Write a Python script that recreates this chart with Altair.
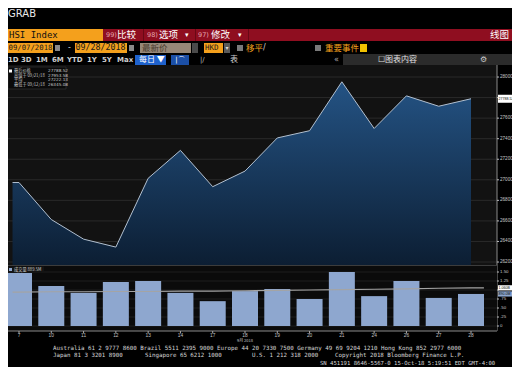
import altair as alt
import pandas as pd

# ---------------- data ----------------
dates = ["7", "10", "11", "12", "13", "14", "17", "18", "19", "20", "21", "24", "26", "27", "28"]
price = [26973.47, 26613.42, 26422.55, 26345.08, 27014.49, 27286.41, 26932.85, 27084.65,
         27407.37, 27477.67, 27953.58, 27499.39, 27816.87, 27715.67, 27788.52]
volume = [1.47, 1.11, 0.92, 1.22, 1.25, 0.92, 0.69, 0.97, 1.03, 0.75, 1.50, 0.83, 1.25, 0.78, 0.89]
vol_ma = [0.94, 0.95, 0.95, 0.96, 0.96, 0.97, 0.97, 0.98, 0.99, 1.00, 1.01, 1.02, 1.03, 1.05, 1.06]
price_ticks = [26200, 26400, 26600, 26800, 27000, 27200, 27400, 27600, 27800, 28000]
vol_ticks = [0, 0.25, 0.5, 0.75, 1.0, 1.25, 1.5]
vol_tick_labels = ["0", ".25", ".50", ".75", "1.00", "1.25", "1.50"]
legend_rows = ["最后价格", "高值于 09/21/18", "平均", "最低于 09/12/18"]
legend_vals = ["27788.52", "27953.58", "27222.13", "26345.08"]
vol_legend = "成交量  889.5M"
month_label = "9月 2018"

# ---------------- scales (pixel ranges) ----------------
X = alt.Scale(domain=[0, 14], range=[6, 468], nice=False, zero=False)
PY = alt.Scale(domain=[26171, 28117], range=[257, 57], nice=False, zero=False)
VY = alt.Scale(domain=[0, 1.75], range=[318, 255], nice=False, zero=False)

idx = list(range(len(dates)))
df = pd.DataFrame({"i": idx, "date": dates, "price": price, "vol": volume, "ma": vol_ma})
# the plot extends flat to the left edge of the panel
area_df = pd.concat([pd.DataFrame({"i": [-0.2], "price": [price[0]]}), df[["i", "price"]]], ignore_index=True)
ma_df = pd.concat([pd.DataFrame({"i": [-0.2], "ma": [vol_ma[0]]}), df[["i", "ma"]],
                   pd.DataFrame({"i": [14.4], "ma": [vol_ma[-1]]})], ignore_index=True)
pt_df = pd.DataFrame({"v": price_ticks, "lab": [str(t) for t in price_ticks]})
pt_lab_df = pt_df[(pt_df["v"] - price[-1]).abs() > 40]
vt_df = pd.DataFrame({"v": vol_ticks, "lab": vol_tick_labels})
vt_lab_df = vt_df[((vt_df["v"] - vol_ma[-1]).abs() > 0.12) & ((vt_df["v"] - volume[-1]).abs() > 0.12)]
last_p = pd.DataFrame({"v": [price[-1]], "lab": [f"{price[-1]:.2f}"]})
last_ma = pd.DataFrame({"v": [vol_ma[-1]], "lab": [f"{vol_ma[-1]:.3f}B"]})
last_v = pd.DataFrame({"v": [volume[-1]], "lab": [f"{volume[-1] * 1000:.1f}M"]})

one = pd.DataFrame({"k": [0]})
CJK = "Noto Sans CJK SC"
MONO = "DejaVu Sans Mono"


def box(x1, y1, x2, y2, color, **kw):
    return alt.Chart(one).mark_rect(color=color, **kw).encode(
        x=alt.value(x1), x2=alt.value(x2), y=alt.value(y1), y2=alt.value(y2))


def label(x, y, s, color, size, font="DejaVu Sans", align="left", weight="normal"):
    return alt.Chart(one).mark_text(text=s, color=color, fontSize=size, font=font, align=align,
                                    baseline="middle", fontWeight=weight).encode(
        x=alt.value(x), y=alt.value(y))


ORANGE = "#f4a01c"
RED = "#8f0e20"
layers = []

# ---------------- header ----------------
layers.append(label(0, 5.5, "GRAB", "#e8e8e8", 10))
layers.append(box(0, 21, 95, 33, ORANGE))
layers.append(label(1, 27, "HSI Index", "#111111", 9, font=MONO))
layers.append(box(95, 21, 504, 33, RED))
for xs in [135, 187, 240]:
    layers.append(box(xs, 21, xs + 1, 33, "#6a0815"))
layers.append(label(98, 27, "99)", "#e6a8b0", 6.5))
layers.append(label(109, 27, "比较", "#ffffff", 9.5, font=CJK))
layers.append(label(139, 27, "98)", "#e6a8b0", 6.5))
layers.append(label(151, 27, "选项", "#ffffff", 9.5, font=CJK))
layers.append(label(177, 27, "▾", "#ffffff", 7))
layers.append(label(190, 27, "97)", "#e6a8b0", 6.5))
layers.append(label(203, 27, "修改", "#ffffff", 9.5, font=CJK))
layers.append(label(230, 27, "▾", "#ffffff", 7))
layers.append(label(482, 27, "线图", "#ffffff", 9.5, font=CJK))

# row 2
layers.append(box(0, 35, 45, 45, ORANGE))
layers.append(label(0.5, 40, "09/07/2018", "#1a1a1a", 7.3, font=MONO))
layers.append(box(47, 37, 52, 43, "#8a8a8a"))
layers.append(label(60, 40, "-", "#dddddd", 8))
layers.append(box(67, 35, 119, 45, ORANGE))
layers.append(label(67.5, 40, "09/28/2018", "#1a1a1a", 8.3, font=MONO))
layers.append(box(121, 37, 126, 43, "#8a8a8a"))
layers.append(box(132, 35, 183, 45, "#978878"))
layers.append(label(134, 40, "最新价", "#4a3c2e", 8.5, font=CJK))
layers.append(box(184, 35, 190, 45, "#4a4a4a"))
layers.append(box(196, 35, 215, 45, ORANGE))
layers.append(label(197, 40, "HKD", "#1a1a1a", 7.5, font=MONO))
layers.append(box(216, 35, 222, 45, "#5a5a5a"))
layers.append(label(219, 40, "▾", "#dddddd", 6, align="center"))
layers.append(box(229, 37, 235, 43, "#7a7a7a"))
layers.append(label(238, 40, "移平", ORANGE, 8.5, font=CJK))
layers.append(label(255, 40, "/", "#cccccc", 8))
layers.append(box(307, 37, 313, 43, "#7a7a7a"))
layers.append(label(317, 40, "重要事件", ORANGE, 8.5, font=CJK))
layers.append(box(352, 36, 359, 44, "#f2c200"))

# row 3
for s, xx in [("1D", 0), ("3D", 13), ("1M", 28), ("6M", 44), ("YTD", 59), ("1Y", 79), ("5Y", 94), ("Max", 109)]:
    layers.append(label(xx, 52, s, "#cfcfcf", 7, weight="bold"))
layers.append(box(127, 47, 158, 57, "#1f62cc"))
layers.append(label(131, 52, "每日 ▼", "#ffffff", 8, font=CJK))
layers.append(box(163, 47, 181, 57, "#1b4fa6"))
layers.append(label(172, 52, "|⌒", "#ffffff", 7, align="center"))
layers.append(label(192, 52, "|/", "#bbbbbb", 7))
layers.append(label(222, 52, "表", "#cccccc", 8, font=CJK))
layers.append(label(326, 52, "«", "#aaaaaa", 8))
layers.append(box(335, 46, 504, 57, "#2b2b2b"))
layers.append(label(370, 52, "☐图表内容", "#e0e0e0", 8, font=CJK))
layers.append(label(472, 52, "⚙", "#cccccc", 8))

# ---------------- price panel ----------------
layers.append(box(0, 57, 489, 257, "#121212"))
layers.append(alt.Chart(pt_df).mark_rule(color="#2a2a2a", strokeWidth=1).encode(
    y=alt.Y("v:Q", scale=PY, axis=None), x=alt.value(0), x2=alt.value(489)))
grad = alt.Gradient(gradient="linear",
                    stops=[alt.GradientStop(color="#245384", offset=0),
                           alt.GradientStop(color="#0c1e33", offset=1)],
                    x1=1, x2=1, y1=0, y2=1)
layers.append(alt.Chart(area_df).mark_area(color=grad).encode(
    x=alt.X("i:Q", scale=X, axis=None), y=alt.Y("price:Q", scale=PY, axis=None), y2=alt.datum(26171)))
layers.append(alt.Chart(area_df).mark_line(color="#b2c0d0", strokeWidth=1).encode(
    x=alt.X("i:Q", scale=X, axis=None), y=alt.Y("price:Q", scale=PY, axis=None)))

# price legend
layers.append(box(0, 59, 58, 81, "#0a0a0a", stroke="#3a3a3a", strokeWidth=0.6))
layers.append(box(1, 61.5, 4, 64.5, "#ffffff"))
for k, (r, v) in enumerate(zip(legend_rows, legend_vals)):
    yy = 63 + 4.5 * k
    layers.append(label(6, yy, r, "#c8c8c8", 4.2, font=CJK))
    layers.append(label(40, yy, v, "#c8c8c8", 4.2))

# right axis (price)
layers.append(alt.Chart(one).mark_rule(color="#8a8a8a").encode(
    x=alt.value(489), y=alt.value(57), y2=alt.value(323)))
layers.append(alt.Chart(pt_df).mark_rule(color="#bbbbbb").encode(
    y=alt.Y("v:Q", scale=PY, axis=None), x=alt.value(489), x2=alt.value(491)))
layers.append(alt.Chart(pt_lab_df).mark_text(align="left", baseline="middle", fontSize=4.6,
                                             color="#c8c8c8").encode(
    y=alt.Y("v:Q", scale=PY, axis=None), x=alt.value(492), text="lab:N"))
layers.append(alt.Chart(last_p).mark_rect(color="#ffffff", yOffset=-4, y2Offset=4).encode(
    y=alt.Y("v:Q", scale=PY, axis=None), y2="v:Q", x=alt.value(490), x2=alt.value(504)))
layers.append(alt.Chart(last_p).mark_text(align="left", baseline="middle", fontSize=3.6,
                                          color="#000000").encode(
    y=alt.Y("v:Q", scale=PY, axis=None), x=alt.value(490.5), text="lab:N"))

# ---------------- volume panel ----------------
layers.append(box(0, 257, 489, 323, "#0b0b0b"))
layers.append(alt.Chart(one).mark_rule(color="#3c3c3c").encode(
    y=alt.value(257.5), x=alt.value(0), x2=alt.value(489)))
layers.append(alt.Chart(vt_df).mark_rule(color="#1f1f1f", strokeWidth=1).encode(
    y=alt.Y("v:Q", scale=VY, axis=None), x=alt.value(0), x2=alt.value(489)))
layers.append(alt.Chart(df).mark_bar(color="#8ea7cf", size=26).encode(
    x=alt.X("i:Q", scale=X, axis=None), y=alt.Y("vol:Q", scale=VY, axis=None), y2=alt.datum(0)))
layers.append(alt.Chart(ma_df).mark_line(color="#a4a4a4", strokeWidth=1.1).encode(
    x=alt.X("i:Q", scale=X, axis=None), y=alt.Y("ma:Q", scale=VY, axis=None)))
layers.append(box(0, 258.5, 36, 265, "#141414"))
layers.append(box(1, 260, 4, 263, "#8ea7cf"))
layers.append(label(6, 261.7, vol_legend, "#d0d0d0", 4.2, font=CJK))

layers.append(alt.Chart(vt_df).mark_rule(color="#bbbbbb").encode(
    y=alt.Y("v:Q", scale=VY, axis=None), x=alt.value(489), x2=alt.value(491)))
layers.append(alt.Chart(vt_lab_df).mark_text(align="left", baseline="middle", fontSize=4.4,
                                             color="#c8c8c8").encode(
    y=alt.Y("v:Q", scale=VY, axis=None), x=alt.value(492), text="lab:N"))
layers.append(alt.Chart(last_ma).mark_rect(color="#ffffff", yOffset=-2.6, y2Offset=2.6).encode(
    y=alt.Y("v:Q", scale=VY, axis=None), y2="v:Q", x=alt.value(490), x2=alt.value(504)))
layers.append(alt.Chart(last_ma).mark_text(align="left", baseline="middle", fontSize=3.6,
                                           color="#000000").encode(
    y=alt.Y("v:Q", scale=VY, axis=None), x=alt.value(490.5), text="lab:N"))
layers.append(alt.Chart(last_v).mark_rect(color="#8ea7cf", yOffset=-2.6, y2Offset=2.6).encode(
    y=alt.Y("v:Q", scale=VY, axis=None), y2="v:Q", x=alt.value(490), x2=alt.value(504)))
layers.append(alt.Chart(last_v).mark_text(align="left", baseline="middle", fontSize=3.6,
                                          color="#000000").encode(
    y=alt.Y("v:Q", scale=VY, axis=None), x=alt.value(490.5), text="lab:N"))

# x axis
layers.append(alt.Chart(one).mark_rule(color="#8a8a8a").encode(
    y=alt.value(323), x=alt.value(0), x2=alt.value(489)))
layers.append(alt.Chart(df).mark_rule(color="#aaaaaa").encode(
    x=alt.X("i:Q", scale=X, axis=None), y=alt.value(323), y2=alt.value(325.5)))
layers.append(alt.Chart(df).mark_text(baseline="middle", fontSize=4.8, color="#c0c0c0").encode(
    x=alt.X("i:Q", scale=X, axis=None), y=alt.value(327.5), text="date:N"))
layers.append(label(229, 333.2, month_label, "#c0c0c0", 4.0, font=CJK))

# ---------------- footer ----------------
FC = "#d6d6d6"
FS = 5.8
layers.append(label(45, 339.5, "Australia 61 2 9777 8600 Brazil 5511 2395 9000 Europe 44 20 7330 7500 "
                               "Germany 49 69 9204 1210 Hong Kong 852 2977 6000", FC, FS, font=MONO))
layers.append(label(45, 347, "Japan 81 3 3201 8900", FC, FS, font=MONO))
layers.append(label(137, 347, "Singapore 65 6212 1000", FC, FS, font=MONO))
layers.append(label(244, 347, "U.S. 1 212 318 2000", FC, FS, font=MONO))
layers.append(label(327, 347, "Copyright 2018 Bloomberg Finance L.P.", FC, FS, font=MONO))
layers.append(label(312, 354.5, "SN 451191 8646-5567-0 15-Oct-18  5:19:51 EDT  GMT-4:00", FC, 5.6, font=MONO))

chart = alt.layer(*layers).properties(
    width=504, height=359, background="#000000", padding=0,
    autosize=alt.AutoSizeParams(type="none")
).resolve_scale(y="independent").configure_view(strokeWidth=0)

chart.save("out.html", embed_options={"renderer": "svg", "actions": False})
